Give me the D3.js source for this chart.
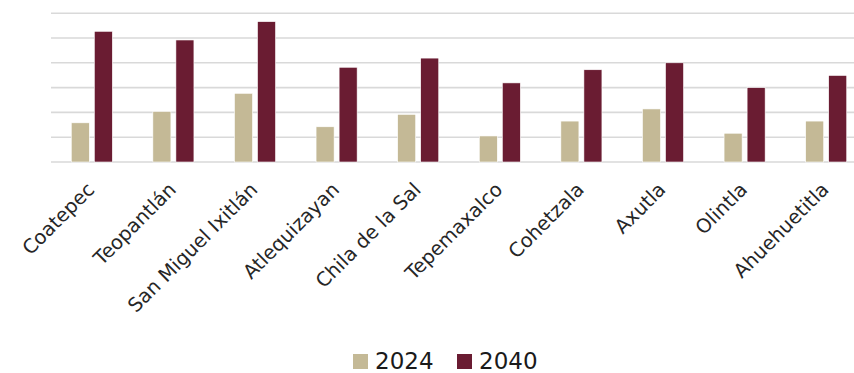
<!DOCTYPE html>
<html><head><meta charset="utf-8">
<script src="https://cdn.jsdelivr.net/npm/d3@7"></script>
<style>body{margin:0;background:#fff;} svg{display:block;}</style>
</head><body>
<svg id="c" width="854" height="373"></svg>
<script>
const categories = ["Coatepec","Teopantlán","San Miguel Ixitlán","Atlequizayan","Chila de la Sal","Tepemaxalco","Cohetzala","Axutla","Olintla","Ahuehuetitla"];
const seriesNames = ["2024","2040"];
const values2024 = [1.58,2.04,2.77,1.42,1.92,1.05,1.65,2.14,1.16,1.65];
const values2040 = [5.27,4.92,5.66,3.82,4.19,3.19,3.72,4.0,3.0,3.49];
const yTicks = [0,1,2,3,4,5,6];
const colors = ["#c4b996","#6a1c32"];

const svg = d3.select("#c");
const x0 = d3.scaleBand().domain(categories).range([51, 867]).paddingInner(0).paddingOuter(0);
const y = d3.scaleLinear().domain([0,6]).range([162, 13.2]);
const x1 = d3.scaleBand().domain(seriesNames).range([0, x0.bandwidth()]).paddingInner(0.217).paddingOuter(0.88);

svg.append("g").selectAll("line").data(yTicks).join("line")
  .attr("x1",51).attr("x2",867).attr("y1",d=>y(d)).attr("y2",d=>y(d))
  .attr("stroke","#d9d9d9").attr("stroke-width",1.6);

const data = categories.map((c,i)=>({c, v:[values2024[i], values2040[i]]}));
const g = svg.append("g").selectAll("g").data(data).join("g")
  .attr("transform",d=>`translate(${x0(d.c)},0)`);
g.selectAll("rect").data(d=>d.v.map((v,j)=>({k:seriesNames[j], v, j}))).join("rect")
  .attr("x",d=>x1(d.k)).attr("width",x1.bandwidth())
  .attr("y",d=>y(d.v)).attr("height",d=>y(0)-y(d.v))
  .attr("fill",d=>colors[d.j]).attr("stroke","#fff").attr("stroke-width",0.6);

const font = "'DejaVu Sans', sans-serif";
svg.append("g").selectAll("text").data(categories).join("text")
  .attr("transform",d=>`translate(${x0(d)+x0.bandwidth()/2-1},${186}) rotate(-45)`)
  .attr("text-anchor","end").attr("dy","0.35em")
  .attr("font-family",font).attr("font-size",19.5).attr("fill","#262626")
  .text(d=>d);

const leg = svg.append("g");
const items = [{n:"2024",c:colors[0],x:353},{n:"2040",c:colors[1],x:457}];
items.forEach(it=>{
  leg.append("rect").attr("x",it.x).attr("y",354).attr("width",15).attr("height",15).attr("fill",it.c);
  leg.append("text").attr("x",it.x+22).attr("y",369).attr("font-family",font).attr("font-size",23).attr("fill","#1a1a1a").text(it.n);
});
</script>
</body></html>
